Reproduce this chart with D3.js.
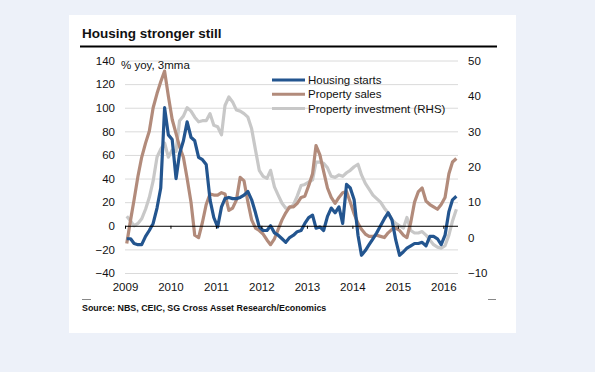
<!DOCTYPE html>
<html>
<head>
<meta charset="utf-8">
<script src="https://cdn.jsdelivr.net/npm/d3@7"></script>
<style>
  body { margin: 0; background: #edf1f9; }
  svg { display: block; font-family: "Liberation Sans", Arial, sans-serif; }
</style>
</head>
<body>
<div id="wrapper"></div>
<script>
// monthly, 3mma, starting Jan 2009
const startYear = 2009;
const housingStarts = [-11, -11, -15, -16, -16, -9, -4, 2, 15, 32, 100, 77, 73, 40, 61, 72, 88, 75, 72, 58,
    56, 52, 22, 7, -1, 16, 23, 24, 23, 23, 24, 26, 29, 22, 11, -1, -4, -4, 0, -6,
    -8, -11, -14, -10, -8, -5, -4, 2, 7, 9, -2, -1, -4, 8, 15, 11, 16, 2, 35, 32,
    22, -8, -25, -21, -16, -11, -6, 0, 6, 11, 5, -12, -25, -22, -19, -17, -15, -15, -14, -17,
    -9, -9, -11, -16, -8, 12, 22, 25];
const propertySales = [-15, 5, 22, 42, 58, 70, 80, 100, 112, 122, 131, 110, 90, 78, 67, 58, 40, 20, -8, -10,
    3, 18, 27, 26, 26, 28, 27, 13, 15, 22, 41, 38, 20, 5, -2, -4, -7, -12, -16, -11,
    -3, 5, 11, 16, 16, 19, 24, 25, 34, 44, 68, 60, 46, 32, 24, 19, 24, 28, 29, 20,
    10, 2, -3, -7, -9, -9, -8, -9, -10, -6, -3, -2, -4, -8, -10, 3, 20, 29, 32, 21,
    18, 16, 14, 18, 24, 44, 54, 57];
// right hand scale
const propertyInvestment = [6, 4.7, 3.3, 4, 5.3, 8, 11.3, 16, 22.7, 25, 26.7, 22.7, 24.7, 24.3, 33, 34.3, 36.7, 35.7, 34, 32.7,
    33, 33, 35, 31.7, 31.3, 29, 37.3, 39.7, 38.3, 36, 35.7, 35, 34, 30.7, 24.7, 19, 17.3, 16.7, 19, 14.3,
    12, 9.7, 8.3, 8.3, 9.3, 11.7, 14.7, 15, 15.7, 16.3, 21.3, 21.3, 21, 19.7, 17.3, 17, 17.7, 17.3, 18.3, 19,
    20, 20.7, 17.7, 15.3, 13.7, 12, 11, 10, 8.3, 7, 5, 4, 3.3, 2.7, 5.7, 2, 1.3, 1.3, 1.7, 0.7,
    -0.7, -2, -2.7, -3, -2.3, 0.7, 4.7, 8];

const years = [2009, 2010, 2011, 2012, 2013, 2014, 2015, 2016];
const leftTicks = [-40, -20, 0, 20, 40, 60, 80, 100, 120, 140];
const rightTicks = [-10, 0, 10, 20, 30, 40, 50];

const seriesNames = ["Housing starts", "Property sales", "Property investment (RHS)"];
const colors = ["#23558f", "#b28b7b", "#c8c8c8"];

const dimension = {
    width: 595,
    height: 372,
    plotLeft: 125,
    plotRight: 458,
    plotTop: 60.5,
    plotBottom: 273
};

const svg = d3.select("#wrapper")
    .append("svg")
    .attr("width", dimension.width)
    .attr("height", dimension.height);

// white panel
svg.append("rect")
    .attr("x", 69).attr("y", 15)
    .attr("width", 447).attr("height", 318)
    .attr("fill", "white");

const monthDate = i => new Date(startYear, i, 15);

const xScaler = d3.scaleTime()
    .domain([new Date(2009, 0, 1), new Date(2016, 0, 1)])
    .range([125, 443.3]);

const yLeft = d3.scaleLinear()
    .domain([-40, 140])
    .range([dimension.plotBottom, dimension.plotTop]);

const yRight = d3.scaleLinear()
    .domain([-10, 50])
    .range([dimension.plotBottom, dimension.plotTop]);

// title
svg.append("text")
    .attr("x", 82).attr("y", 38)
    .attr("font-size", "13.5px")
    .attr("font-weight", "bold")
    .attr("fill", "#111")
    .text("Housing stronger still");

svg.append("line")
    .attr("x1", 80).attr("x2", 497)
    .attr("y1", 46.5).attr("y2", 46.5)
    .attr("stroke", "black")
    .attr("stroke-width", 2.2);

// gridlines
const grid = svg.append("g")
    .attr("transform", `translate(${dimension.plotLeft},0)`)
    .call(d3.axisLeft(yLeft)
        .tickValues(leftTicks.filter(d => d != 0))
        .tickSize(-(dimension.plotRight - dimension.plotLeft))
        .tickFormat(""));
grid.select(".domain").remove();
grid.selectAll("line").attr("stroke", "#dadada").attr("stroke-width", 1);

// left axis
const leftAxis = svg.append("g")
    .attr("transform", `translate(${dimension.plotLeft},0)`)
    .call(d3.axisLeft(yLeft).tickValues(leftTicks).tickSize(0).tickPadding(10));
leftAxis.select(".domain").remove();
leftAxis.selectAll("text").attr("font-size", "11.5px").attr("fill", "#111").style("font-family", "inherit");

// right axis
const rightAxis = svg.append("g")
    .attr("transform", `translate(${dimension.plotRight},0)`)
    .call(d3.axisRight(yRight).tickValues(rightTicks).tickSize(0).tickPadding(10));
rightAxis.select(".domain").remove();
rightAxis.selectAll("text").attr("font-size", "11.5px").attr("fill", "#111").style("font-family", "inherit");

// x labels
const xLabels = svg.append("g")
    .attr("transform", `translate(0,${dimension.plotBottom})`)
    .call(d3.axisBottom(xScaler)
        .tickValues(years.map(y => new Date(y, 0, 1)))
        .tickSize(0).tickPadding(10)
        .tickFormat(d3.timeFormat("%Y")));
xLabels.select(".domain").remove();
xLabels.selectAll("text").attr("font-size", "11.5px").attr("fill", "#111").style("font-family", "inherit");

// unit label
svg.append("text")
    .attr("x", 121).attr("y", 69)
    .attr("font-size", "11.5px")
    .attr("fill", "#111")
    .text("% yoy, 3mma");

// series
const lineLeft = d3.line()
    .x((d, i) => xScaler(monthDate(i)))
    .y(d => yLeft(d));
const lineRight = d3.line()
    .x((d, i) => xScaler(monthDate(i)))
    .y(d => yRight(d));

svg.append("path")
    .attr("d", lineRight(propertyInvestment))
    .attr("fill", "none")
    .attr("stroke", colors[2])
    .attr("stroke-width", 3.2)
    .attr("stroke-linejoin", "round");

svg.append("path")
    .attr("d", lineLeft(propertySales))
    .attr("fill", "none")
    .attr("stroke", colors[1])
    .attr("stroke-width", 3.2)
    .attr("stroke-linejoin", "round");

svg.append("path")
    .attr("d", lineLeft(housingStarts))
    .attr("fill", "none")
    .attr("stroke", colors[0])
    .attr("stroke-width", 3.2)
    .attr("stroke-linejoin", "round");

// zero line with year ticks
const zeroAxis = svg.append("g")
    .attr("transform", `translate(0,${yLeft(0)})`)
    .call(d3.axisBottom(xScaler)
        .tickValues(years.map(y => new Date(y, 0, 1)))
        .tickSize(3)
        .tickSizeOuter(0)
        .tickFormat(""));
zeroAxis.select(".domain")
    .attr("d", `M${dimension.plotLeft},0.5H${dimension.plotRight}`)
    .attr("stroke", "black");
zeroAxis.selectAll("line").attr("stroke", "black");

// legend
const legend = svg.append("g");
seriesNames.forEach((name, i) => {
    const ly = 80 + i * 14.3;
    legend.append("line")
        .attr("x1", 272).attr("x2", 305)
        .attr("y1", ly).attr("y2", ly)
        .attr("stroke", colors[i])
        .attr("stroke-width", 3);
    legend.append("text")
        .attr("x", 308).attr("y", ly + 4)
        .attr("font-size", "11.5px")
        .attr("fill", "#111")
        .text(name);
});

// footer marks + source
svg.append("line")
    .attr("x1", 82).attr("x2", 91).attr("y1", 299.5).attr("y2", 299.5)
    .attr("stroke", "#888");
svg.append("line")
    .attr("x1", 488).attr("x2", 496).attr("y1", 299.5).attr("y2", 299.5)
    .attr("stroke", "#888");

svg.append("text")
    .attr("x", 82).attr("y", 310.5)
    .attr("font-size", "8.9px")
    .attr("font-weight", "bold")
    .attr("fill", "#111")
    .text("Source: NBS, CEIC, SG Cross Asset Research/Economics");
</script>
</body>
</html>
